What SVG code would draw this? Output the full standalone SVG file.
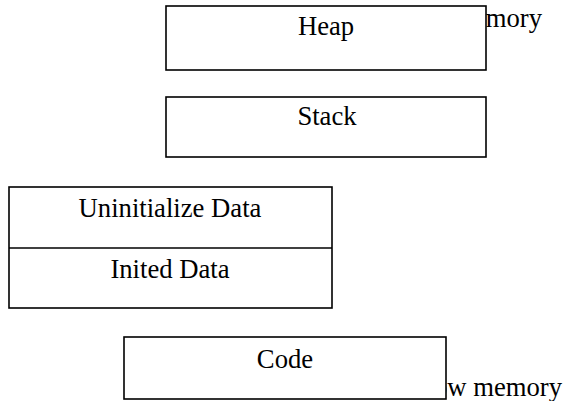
<svg xmlns="http://www.w3.org/2000/svg" width="565" height="401" viewBox="0 0 565 401">
  <style>
    .box { fill: #ffffff; stroke: #000000; stroke-width: 1.6; }
    .lbl { font-family: "Liberation Serif", "Times New Roman", serif; font-size: 26.67px; fill: #000000; }
    .mid { text-anchor: middle; }
    .end { text-anchor: end; }
  </style>
  <rect width="565" height="401" fill="#ffffff"/>

  <!-- address-range labels, partly covered by the segment boxes -->
  <g id="labels">
    <text class="lbl end" x="542" y="27">High memory</text>
    <text class="lbl end" x="562" y="396">Low memory</text>
  </g>

  <g id="heap">
    <rect class="box" x="166" y="6" width="320" height="64"/>
    <text class="lbl mid" x="326" y="35">Heap</text>
  </g>

  <g id="stack">
    <rect class="box" x="166" y="97" width="320" height="60"/>
    <text class="lbl mid" x="327" y="125">Stack</text>
  </g>

  <g id="data">
    <rect class="box" x="9" y="187" width="323" height="121"/>
    <line x1="9" y1="248" x2="332" y2="248" stroke="#000000" stroke-width="1.6"/>
    <text class="lbl mid" x="170" y="217">Uninitialize Data</text>
    <text class="lbl mid" x="170" y="278">Inited Data</text>
  </g>

  <g id="code">
    <rect class="box" x="124" y="337" width="322" height="62"/>
    <text class="lbl mid" x="285" y="368">Code</text>
  </g>

  <g id="connectors"/>
</svg>
